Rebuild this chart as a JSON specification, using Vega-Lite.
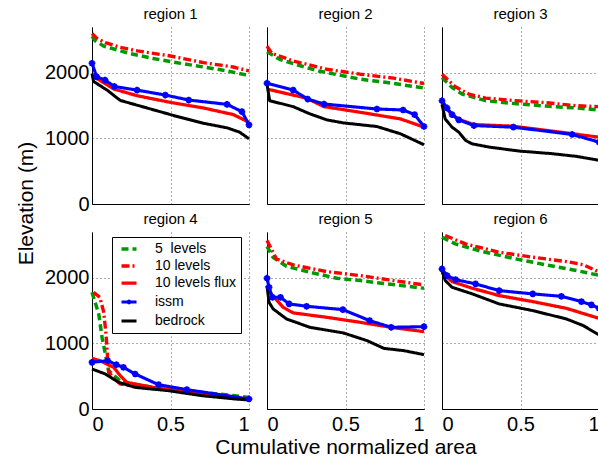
{
  "$schema": "https://vega.github.io/schema/vega-lite/v6.json",
  "padding": {"left": 15, "top": 7, "right": 0, "bottom": 0},
  "background": "white",
  "config": {
    "font": "Liberation Sans",
    "view": {"stroke": null},
    "title": {"fontSize": 15, "fontWeight": "normal", "font": "Liberation Sans", "offset": 5, "color": "black"},
    "axis": {"labelFont": "Liberation Sans", "titleFont": "Liberation Sans", "labelColor": "black", "titleColor": "black", "titleFontWeight": "normal", "labelFontSize": 20, "titleFontSize": 21, "grid": true, "gridDash": [1, 3], "gridColor": "#000", "gridOpacity": 0.65, "domainColor": "#000", "domainWidth": 1, "ticks": false},
    "legend": {"title": null, "orient": "none", "legendX": 20, "legendY": 210, "symbolType": "M-0.5,0L2.5,0", "symbolSize": 100, "labelFontSize": 14, "labelFont": "Liberation Sans", "labelColor": "black", "strokeColor": "black", "fillColor": "white", "padding": 5, "rowPadding": 3, "labelOffset": 24}
  },
  "datasets": {
    "d": [
      {"r": "region 1", "s": "5  levels", "x": 0, "y": 2560}, {"r": "region 1", "s": "5  levels", "x": 0.02, "y": 2490}, {"r": "region 1", "s": "5  levels", "x": 0.074, "y": 2410}, {"r": "region 1", "s": "5  levels", "x": 0.16, "y": 2350}, {"r": "region 1", "s": "5  levels", "x": 0.233, "y": 2300}, {"r": "region 1", "s": "5  levels", "x": 0.39, "y": 2220}, {"r": "region 1", "s": "5  levels", "x": 0.48, "y": 2180}, {"r": "region 1", "s": "5  levels", "x": 0.58, "y": 2140}, {"r": "region 1", "s": "5  levels", "x": 0.71, "y": 2090}, {"r": "region 1", "s": "5  levels", "x": 0.86, "y": 2030}, {"r": "region 1", "s": "5  levels", "x": 1, "y": 1960},
      {"r": "region 1", "s": "10 levels", "x": 0, "y": 2600}, {"r": "region 1", "s": "10 levels", "x": 0.03, "y": 2530}, {"r": "region 1", "s": "10 levels", "x": 0.085, "y": 2460}, {"r": "region 1", "s": "10 levels", "x": 0.18, "y": 2390}, {"r": "region 1", "s": "10 levels", "x": 0.29, "y": 2335}, {"r": "region 1", "s": "10 levels", "x": 0.5, "y": 2258}, {"r": "region 1", "s": "10 levels", "x": 0.71, "y": 2156}, {"r": "region 1", "s": "10 levels", "x": 0.9, "y": 2090}, {"r": "region 1", "s": "10 levels", "x": 1, "y": 2030},
      {"r": "region 1", "s": "10 levels flux", "x": 0, "y": 1960}, {"r": "region 1", "s": "10 levels flux", "x": 0.14, "y": 1753}, {"r": "region 1", "s": "10 levels flux", "x": 0.287, "y": 1652}, {"r": "region 1", "s": "10 levels flux", "x": 0.5, "y": 1550}, {"r": "region 1", "s": "10 levels flux", "x": 0.71, "y": 1465}, {"r": "region 1", "s": "10 levels flux", "x": 0.9, "y": 1364}, {"r": "region 1", "s": "10 levels flux", "x": 1, "y": 1247},
      {"r": "region 1", "s": "issm", "x": 0, "y": 2147}, {"r": "region 1", "s": "issm", "x": 0.03, "y": 1940}, {"r": "region 1", "s": "issm", "x": 0.083, "y": 1890}, {"r": "region 1", "s": "issm", "x": 0.142, "y": 1793}, {"r": "region 1", "s": "issm", "x": 0.287, "y": 1737}, {"r": "region 1", "s": "issm", "x": 0.467, "y": 1662}, {"r": "region 1", "s": "issm", "x": 0.616, "y": 1586}, {"r": "region 1", "s": "issm", "x": 0.86, "y": 1520}, {"r": "region 1", "s": "issm", "x": 0.955, "y": 1409}, {"r": "region 1", "s": "issm", "x": 1, "y": 1207},
      {"r": "region 1", "s": "bedrock", "x": 0, "y": 1990}, {"r": "region 1", "s": "bedrock", "x": 0.01, "y": 1870}, {"r": "region 1", "s": "bedrock", "x": 0.1, "y": 1730}, {"r": "region 1", "s": "bedrock", "x": 0.18, "y": 1580}, {"r": "region 1", "s": "bedrock", "x": 0.35, "y": 1465}, {"r": "region 1", "s": "bedrock", "x": 0.52, "y": 1350}, {"r": "region 1", "s": "bedrock", "x": 0.71, "y": 1232}, {"r": "region 1", "s": "bedrock", "x": 0.86, "y": 1162}, {"r": "region 1", "s": "bedrock", "x": 0.94, "y": 1096}, {"r": "region 1", "s": "bedrock", "x": 1, "y": 995},

      {"r": "region 2", "s": "5  levels", "x": 0, "y": 2323}, {"r": "region 2", "s": "5  levels", "x": 0.08, "y": 2207}, {"r": "region 2", "s": "5  levels", "x": 0.167, "y": 2141}, {"r": "region 2", "s": "5  levels", "x": 0.327, "y": 2030}, {"r": "region 2", "s": "5  levels", "x": 0.594, "y": 1904}, {"r": "region 2", "s": "5  levels", "x": 0.765, "y": 1853}, {"r": "region 2", "s": "5  levels", "x": 1, "y": 1770},
      {"r": "region 2", "s": "10 levels", "x": 0, "y": 2409}, {"r": "region 2", "s": "10 levels", "x": 0.03, "y": 2300}, {"r": "region 2", "s": "10 levels", "x": 0.167, "y": 2182}, {"r": "region 2", "s": "10 levels", "x": 0.38, "y": 2056}, {"r": "region 2", "s": "10 levels", "x": 0.594, "y": 1980}, {"r": "region 2", "s": "10 levels", "x": 0.807, "y": 1919}, {"r": "region 2", "s": "10 levels", "x": 1, "y": 1838},
      {"r": "region 2", "s": "10 levels flux", "x": 0, "y": 1753}, {"r": "region 2", "s": "10 levels flux", "x": 0.25, "y": 1616}, {"r": "region 2", "s": "10 levels flux", "x": 0.363, "y": 1485}, {"r": "region 2", "s": "10 levels flux", "x": 0.594, "y": 1399}, {"r": "region 2", "s": "10 levels flux", "x": 0.85, "y": 1298}, {"r": "region 2", "s": "10 levels flux", "x": 1, "y": 1172},
      {"r": "region 2", "s": "issm", "x": 0, "y": 1843}, {"r": "region 2", "s": "issm", "x": 0.167, "y": 1737}, {"r": "region 2", "s": "issm", "x": 0.259, "y": 1601}, {"r": "region 2", "s": "issm", "x": 0.363, "y": 1525}, {"r": "region 2", "s": "issm", "x": 0.7, "y": 1449}, {"r": "region 2", "s": "issm", "x": 0.867, "y": 1434}, {"r": "region 2", "s": "issm", "x": 0.94, "y": 1364}, {"r": "region 2", "s": "issm", "x": 1, "y": 1182},
      {"r": "region 2", "s": "bedrock", "x": 0, "y": 1830}, {"r": "region 2", "s": "bedrock", "x": 0.017, "y": 1576}, {"r": "region 2", "s": "bedrock", "x": 0.167, "y": 1485}, {"r": "region 2", "s": "bedrock", "x": 0.274, "y": 1374}, {"r": "region 2", "s": "bedrock", "x": 0.381, "y": 1283}, {"r": "region 2", "s": "bedrock", "x": 0.487, "y": 1237}, {"r": "region 2", "s": "bedrock", "x": 0.7, "y": 1182}, {"r": "region 2", "s": "bedrock", "x": 0.85, "y": 1071}, {"r": "region 2", "s": "bedrock", "x": 1, "y": 904},

      {"r": "region 3", "s": "5  levels", "x": 0, "y": 1929}, {"r": "region 3", "s": "5  levels", "x": 0.064, "y": 1778}, {"r": "region 3", "s": "5  levels", "x": 0.128, "y": 1677}, {"r": "region 3", "s": "5  levels", "x": 0.278, "y": 1576}, {"r": "region 3", "s": "5  levels", "x": 0.449, "y": 1535}, {"r": "region 3", "s": "5  levels", "x": 0.684, "y": 1490}, {"r": "region 3", "s": "5  levels", "x": 0.855, "y": 1465}, {"r": "region 3", "s": "5  levels", "x": 1, "y": 1434},
      {"r": "region 3", "s": "10 levels", "x": 0, "y": 1980}, {"r": "region 3", "s": "10 levels", "x": 0.085, "y": 1788}, {"r": "region 3", "s": "10 levels", "x": 0.171, "y": 1677}, {"r": "region 3", "s": "10 levels", "x": 0.278, "y": 1616}, {"r": "region 3", "s": "10 levels", "x": 0.47, "y": 1576}, {"r": "region 3", "s": "10 levels", "x": 0.662, "y": 1545}, {"r": "region 3", "s": "10 levels", "x": 0.854, "y": 1500}, {"r": "region 3", "s": "10 levels", "x": 1, "y": 1485},
      {"r": "region 3", "s": "10 levels flux", "x": 0, "y": 1530}, {"r": "region 3", "s": "10 levels flux", "x": 0.05, "y": 1400}, {"r": "region 3", "s": "10 levels flux", "x": 0.1, "y": 1300}, {"r": "region 3", "s": "10 levels flux", "x": 0.2, "y": 1212}, {"r": "region 3", "s": "10 levels flux", "x": 0.455, "y": 1187}, {"r": "region 3", "s": "10 levels flux", "x": 1, "y": 1020},
      {"r": "region 3", "s": "issm", "x": 0, "y": 1576}, {"r": "region 3", "s": "issm", "x": 0.032, "y": 1465}, {"r": "region 3", "s": "issm", "x": 0.064, "y": 1364}, {"r": "region 3", "s": "issm", "x": 0.107, "y": 1283}, {"r": "region 3", "s": "issm", "x": 0.203, "y": 1197}, {"r": "region 3", "s": "issm", "x": 0.455, "y": 1172}, {"r": "region 3", "s": "issm", "x": 0.829, "y": 1061}, {"r": "region 3", "s": "issm", "x": 1, "y": 944},
      {"r": "region 3", "s": "bedrock", "x": 0, "y": 1520}, {"r": "region 3", "s": "bedrock", "x": 0.02, "y": 1298}, {"r": "region 3", "s": "bedrock", "x": 0.064, "y": 1172}, {"r": "region 3", "s": "bedrock", "x": 0.107, "y": 1096}, {"r": "region 3", "s": "bedrock", "x": 0.15, "y": 970}, {"r": "region 3", "s": "bedrock", "x": 0.19, "y": 919}, {"r": "region 3", "s": "bedrock", "x": 0.3, "y": 868}, {"r": "region 3", "s": "bedrock", "x": 0.49, "y": 808}, {"r": "region 3", "s": "bedrock", "x": 0.7, "y": 768}, {"r": "region 3", "s": "bedrock", "x": 0.855, "y": 727}, {"r": "region 3", "s": "bedrock", "x": 1, "y": 667},

      {"r": "region 4", "s": "5  levels", "x": 0, "y": 1780}, {"r": "region 4", "s": "5  levels", "x": 0.043, "y": 1450}, {"r": "region 4", "s": "5  levels", "x": 0.064, "y": 1093}, {"r": "region 4", "s": "5  levels", "x": 0.085, "y": 840}, {"r": "region 4", "s": "5  levels", "x": 0.106, "y": 585}, {"r": "region 4", "s": "5  levels", "x": 0.19, "y": 406}, {"r": "region 4", "s": "5  levels", "x": 0.318, "y": 356}, {"r": "region 4", "s": "5  levels", "x": 0.488, "y": 305}, {"r": "region 4", "s": "5  levels", "x": 0.7, "y": 253}, {"r": "region 4", "s": "5  levels", "x": 0.911, "y": 203}, {"r": "region 4", "s": "5  levels", "x": 1, "y": 177},
      {"r": "region 4", "s": "10 levels", "x": 0.01, "y": 1780}, {"r": "region 4", "s": "10 levels", "x": 0.05, "y": 1704}, {"r": "region 4", "s": "10 levels", "x": 0.075, "y": 1475}, {"r": "region 4", "s": "10 levels", "x": 0.09, "y": 1119}, {"r": "region 4", "s": "10 levels", "x": 0.1, "y": 763}, {"r": "region 4", "s": "10 levels", "x": 0.106, "y": 559}, {"r": "region 4", "s": "10 levels", "x": 0.18, "y": 382}, {"r": "region 4", "s": "10 levels", "x": 0.318, "y": 340}, {"r": "region 4", "s": "10 levels", "x": 0.488, "y": 295}, {"r": "region 4", "s": "10 levels", "x": 0.7, "y": 240}, {"r": "region 4", "s": "10 levels", "x": 0.911, "y": 180}, {"r": "region 4", "s": "10 levels", "x": 1, "y": 153},
      {"r": "region 4", "s": "10 levels flux", "x": 0, "y": 773}, {"r": "region 4", "s": "10 levels flux", "x": 0.05, "y": 737}, {"r": "region 4", "s": "10 levels flux", "x": 0.138, "y": 636}, {"r": "region 4", "s": "10 levels flux", "x": 0.18, "y": 508}, {"r": "region 4", "s": "10 levels flux", "x": 0.222, "y": 406}, {"r": "region 4", "s": "10 levels flux", "x": 0.39, "y": 330}, {"r": "region 4", "s": "10 levels flux", "x": 0.6, "y": 260}, {"r": "region 4", "s": "10 levels flux", "x": 1, "y": 142},
      {"r": "region 4", "s": "issm", "x": 0, "y": 712}, {"r": "region 4", "s": "issm", "x": 0.1, "y": 737}, {"r": "region 4", "s": "issm", "x": 0.155, "y": 676}, {"r": "region 4", "s": "issm", "x": 0.2, "y": 636}, {"r": "region 4", "s": "issm", "x": 0.275, "y": 534}, {"r": "region 4", "s": "issm", "x": 0.424, "y": 371}, {"r": "region 4", "s": "issm", "x": 0.604, "y": 295}, {"r": "region 4", "s": "issm", "x": 1, "y": 153},
      {"r": "region 4", "s": "bedrock", "x": 0, "y": 610}, {"r": "region 4", "s": "bedrock", "x": 0.085, "y": 534}, {"r": "region 4", "s": "bedrock", "x": 0.17, "y": 406}, {"r": "region 4", "s": "bedrock", "x": 0.275, "y": 330}, {"r": "region 4", "s": "bedrock", "x": 0.488, "y": 279}, {"r": "region 4", "s": "bedrock", "x": 0.7, "y": 203}, {"r": "region 4", "s": "bedrock", "x": 0.911, "y": 153}, {"r": "region 4", "s": "bedrock", "x": 1, "y": 137},

      {"r": "region 5", "s": "5  levels", "x": 0, "y": 2482}, {"r": "region 5", "s": "5  levels", "x": 0.038, "y": 2315}, {"r": "region 5", "s": "5  levels", "x": 0.124, "y": 2177}, {"r": "region 5", "s": "5  levels", "x": 0.274, "y": 2086}, {"r": "region 5", "s": "5  levels", "x": 0.445, "y": 1995}, {"r": "region 5", "s": "5  levels", "x": 0.594, "y": 1959}, {"r": "region 5", "s": "5  levels", "x": 0.765, "y": 1908}, {"r": "region 5", "s": "5  levels", "x": 1, "y": 1842},
      {"r": "region 5", "s": "10 levels", "x": 0, "y": 2570}, {"r": "region 5", "s": "10 levels", "x": 0.06, "y": 2290}, {"r": "region 5", "s": "10 levels", "x": 0.167, "y": 2198}, {"r": "region 5", "s": "10 levels", "x": 0.38, "y": 2096}, {"r": "region 5", "s": "10 levels", "x": 0.594, "y": 2035}, {"r": "region 5", "s": "10 levels", "x": 0.765, "y": 1974}, {"r": "region 5", "s": "10 levels", "x": 1, "y": 1893},
      {"r": "region 5", "s": "10 levels flux", "x": 0, "y": 1880}, {"r": "region 5", "s": "10 levels flux", "x": 0.017, "y": 1780}, {"r": "region 5", "s": "10 levels flux", "x": 0.103, "y": 1551}, {"r": "region 5", "s": "10 levels flux", "x": 0.167, "y": 1466}, {"r": "region 5", "s": "10 levels flux", "x": 0.38, "y": 1399}, {"r": "region 5", "s": "10 levels flux", "x": 0.594, "y": 1322}, {"r": "region 5", "s": "10 levels flux", "x": 0.79, "y": 1246}, {"r": "region 5", "s": "10 levels flux", "x": 1, "y": 1180},
      {"r": "region 5", "s": "issm", "x": 0, "y": 1995}, {"r": "region 5", "s": "issm", "x": 0.013, "y": 1857}, {"r": "region 5", "s": "issm", "x": 0.035, "y": 1704}, {"r": "region 5", "s": "issm", "x": 0.086, "y": 1704}, {"r": "region 5", "s": "issm", "x": 0.141, "y": 1603}, {"r": "region 5", "s": "issm", "x": 0.252, "y": 1567}, {"r": "region 5", "s": "issm", "x": 0.483, "y": 1516}, {"r": "region 5", "s": "issm", "x": 0.654, "y": 1348}, {"r": "region 5", "s": "issm", "x": 0.791, "y": 1246}, {"r": "region 5", "s": "issm", "x": 1, "y": 1256},
      {"r": "region 5", "s": "bedrock", "x": 0, "y": 1880}, {"r": "region 5", "s": "bedrock", "x": 0.013, "y": 1628}, {"r": "region 5", "s": "bedrock", "x": 0.039, "y": 1527}, {"r": "region 5", "s": "bedrock", "x": 0.124, "y": 1374}, {"r": "region 5", "s": "bedrock", "x": 0.273, "y": 1246}, {"r": "region 5", "s": "bedrock", "x": 0.487, "y": 1160}, {"r": "region 5", "s": "bedrock", "x": 0.637, "y": 1043}, {"r": "region 5", "s": "bedrock", "x": 0.744, "y": 925}, {"r": "region 5", "s": "bedrock", "x": 0.872, "y": 890}, {"r": "region 5", "s": "bedrock", "x": 1, "y": 829},

      {"r": "region 6", "s": "5  levels", "x": 0, "y": 2620}, {"r": "region 6", "s": "5  levels", "x": 0.085, "y": 2519}, {"r": "region 6", "s": "5  levels", "x": 0.257, "y": 2401}, {"r": "region 6", "s": "5  levels", "x": 0.471, "y": 2290}, {"r": "region 6", "s": "5  levels", "x": 0.685, "y": 2188}, {"r": "region 6", "s": "5  levels", "x": 0.856, "y": 2112}, {"r": "region 6", "s": "5  levels", "x": 1, "y": 2040},
      {"r": "region 6", "s": "10 levels", "x": 0.02, "y": 2646}, {"r": "region 6", "s": "10 levels", "x": 0.15, "y": 2519}, {"r": "region 6", "s": "10 levels", "x": 0.364, "y": 2391}, {"r": "region 6", "s": "10 levels", "x": 0.578, "y": 2315}, {"r": "region 6", "s": "10 levels", "x": 0.792, "y": 2249}, {"r": "region 6", "s": "10 levels", "x": 0.9, "y": 2200}, {"r": "region 6", "s": "10 levels", "x": 1, "y": 2090},
      {"r": "region 6", "s": "10 levels flux", "x": 0, "y": 2085}, {"r": "region 6", "s": "10 levels flux", "x": 0.064, "y": 1943}, {"r": "region 6", "s": "10 levels flux", "x": 0.193, "y": 1842}, {"r": "region 6", "s": "10 levels flux", "x": 0.364, "y": 1730}, {"r": "region 6", "s": "10 levels flux", "x": 0.578, "y": 1638}, {"r": "region 6", "s": "10 levels flux", "x": 0.792, "y": 1536}, {"r": "region 6", "s": "10 levels flux", "x": 1, "y": 1383},
      {"r": "region 6", "s": "issm", "x": 0, "y": 2137}, {"r": "region 6", "s": "issm", "x": 0.032, "y": 2035}, {"r": "region 6", "s": "issm", "x": 0.086, "y": 1974}, {"r": "region 6", "s": "issm", "x": 0.214, "y": 1908}, {"r": "region 6", "s": "issm", "x": 0.364, "y": 1806}, {"r": "region 6", "s": "issm", "x": 0.578, "y": 1756}, {"r": "region 6", "s": "issm", "x": 0.76, "y": 1719}, {"r": "region 6", "s": "issm", "x": 0.888, "y": 1638}, {"r": "region 6", "s": "issm", "x": 0.952, "y": 1588}, {"r": "region 6", "s": "issm", "x": 1, "y": 1536},
      {"r": "region 6", "s": "bedrock", "x": 0, "y": 2110}, {"r": "region 6", "s": "bedrock", "x": 0.021, "y": 1959}, {"r": "region 6", "s": "bedrock", "x": 0.064, "y": 1857}, {"r": "region 6", "s": "bedrock", "x": 0.193, "y": 1756}, {"r": "region 6", "s": "bedrock", "x": 0.364, "y": 1603}, {"r": "region 6", "s": "bedrock", "x": 0.578, "y": 1501}, {"r": "region 6", "s": "bedrock", "x": 0.792, "y": 1374}, {"r": "region 6", "s": "bedrock", "x": 0.9, "y": 1272}, {"r": "region 6", "s": "bedrock", "x": 1, "y": 1130}
    ]
  },
  "data": {"name": "d"},
  "bounds": "flush",
  "columns": 3,
  "spacing": {"row": 28, "column": 18},
  "concat": [
      {"title": "region 1", "width": 157, "height": 177, "transform": [{"filter": "datum.r === 'region 1'"}],
       "layer": [
        {"mark": {"type": "line", "strokeJoin": "round"},
         "encoding": {
          "x": {"field": "x", "type": "quantitative", "scale": {"domain": [0, 1], "nice": false}, "axis": {"values": [0, 0.5, 1], "labels": false, "title": null}},
          "y": {"field": "y", "type": "quantitative", "scale": {"domain": [0, 2700], "nice": false}, "axis": {"values": [0, 1000, 2000], "format": "d", "title": "Elevation (m)", "labelPadding": 3, "titlePadding": 8, "titleY": 176}},
          "color": {"field": "s", "type": "nominal", "scale": {"domain": ["5  levels", "10 levels", "10 levels flux", "issm", "bedrock"], "range": ["#009900", "#ff0000", "#ff0000", "#0000ff", "#000000"]},
                    "legend": {"labelExpr": "datum.label === '5 levels' || datum.label === '5  levels' ? '5\u00a0 levels' : datum.label", "encode": {"symbols": {"update": {"strokeWidth": [{"test": "datum.value === '10 levels flux'", "value": 1}, {"value": 3.5}], "shape": [{"test": "datum.value === 'issm'", "value": "M-0.5,0L2.5,0M1,-0.4L1,0.4M0.7,-0.3L1.3,0.3M0.7,0.3L1.3,-0.3"}, {"value": "M-0.5,0L2.5,0"}]}}}}},
          "strokeDash": {"field": "s", "type": "nominal", "scale": {"domain": ["5  levels", "10 levels", "10 levels flux", "issm", "bedrock"], "range": [[7, 4], [8, 3, 2, 3], [1, 0], [1, 0], [1, 0]]}},
          "strokeWidth": {"field": "s", "type": "nominal", "legend": null, "scale": {"domain": ["5  levels", "10 levels", "10 levels flux", "issm", "bedrock"], "range": [3.5, 3, 1, 3.5, 3.5]}}
         }},
        {"transform": [{"filter": "datum.s === 'issm'"}],
         "mark": {"type": "point", "shape": "M-1,0L1,0M0,-1L0,1M-0.7,-0.7L0.7,0.7M-0.7,0.7L0.7,-0.7", "filled": false, "color": "#0000ff", "strokeWidth": 2, "size": 45, "opacity": 1},
         "encoding": {"x": {"field": "x", "type": "quantitative"}, "y": {"field": "y", "type": "quantitative"}}}
       ]},
      {"title": "region 2", "width": 157, "height": 177, "transform": [{"filter": "datum.r === 'region 2'"}],
       "layer": [
        {"mark": {"type": "line", "strokeJoin": "round"},
         "encoding": {
          "x": {"field": "x", "type": "quantitative", "scale": {"domain": [0, 1], "nice": false}, "axis": {"values": [0, 0.5, 1], "labels": false, "title": null}},
          "y": {"field": "y", "type": "quantitative", "scale": {"domain": [0, 2700], "nice": false}, "axis": {"values": [0, 1000, 2000], "labels": false, "title": null}},
          "color": {"field": "s", "type": "nominal", "scale": {"domain": ["5  levels", "10 levels", "10 levels flux", "issm", "bedrock"], "range": ["#009900", "#ff0000", "#ff0000", "#0000ff", "#000000"]},
                    "legend": {"labelExpr": "datum.label === '5 levels' || datum.label === '5  levels' ? '5\u00a0 levels' : datum.label", "encode": {"symbols": {"update": {"strokeWidth": [{"test": "datum.value === '10 levels flux'", "value": 1}, {"value": 3.5}], "shape": [{"test": "datum.value === 'issm'", "value": "M-0.5,0L2.5,0M1,-0.4L1,0.4M0.7,-0.3L1.3,0.3M0.7,0.3L1.3,-0.3"}, {"value": "M-0.5,0L2.5,0"}]}}}}},
          "strokeDash": {"field": "s", "type": "nominal", "scale": {"domain": ["5  levels", "10 levels", "10 levels flux", "issm", "bedrock"], "range": [[7, 4], [8, 3, 2, 3], [1, 0], [1, 0], [1, 0]]}},
          "strokeWidth": {"field": "s", "type": "nominal", "legend": null, "scale": {"domain": ["5  levels", "10 levels", "10 levels flux", "issm", "bedrock"], "range": [3.5, 3, 1, 3.5, 3.5]}}
         }},
        {"transform": [{"filter": "datum.s === 'issm'"}],
         "mark": {"type": "point", "shape": "M-1,0L1,0M0,-1L0,1M-0.7,-0.7L0.7,0.7M-0.7,0.7L0.7,-0.7", "filled": false, "color": "#0000ff", "strokeWidth": 2, "size": 45, "opacity": 1},
         "encoding": {"x": {"field": "x", "type": "quantitative"}, "y": {"field": "y", "type": "quantitative"}}}
       ]},
      {"title": "region 3", "width": 157, "height": 177, "transform": [{"filter": "datum.r === 'region 3'"}],
       "layer": [
        {"mark": {"type": "line", "strokeJoin": "round"},
         "encoding": {
          "x": {"field": "x", "type": "quantitative", "scale": {"domain": [0, 1], "nice": false}, "axis": {"values": [0, 0.5, 1], "labels": false, "title": null}},
          "y": {"field": "y", "type": "quantitative", "scale": {"domain": [0, 2700], "nice": false}, "axis": {"values": [0, 1000, 2000], "labels": false, "title": null}},
          "color": {"field": "s", "type": "nominal", "scale": {"domain": ["5  levels", "10 levels", "10 levels flux", "issm", "bedrock"], "range": ["#009900", "#ff0000", "#ff0000", "#0000ff", "#000000"]},
                    "legend": {"labelExpr": "datum.label === '5 levels' || datum.label === '5  levels' ? '5\u00a0 levels' : datum.label", "encode": {"symbols": {"update": {"strokeWidth": [{"test": "datum.value === '10 levels flux'", "value": 1}, {"value": 3.5}], "shape": [{"test": "datum.value === 'issm'", "value": "M-0.5,0L2.5,0M1,-0.4L1,0.4M0.7,-0.3L1.3,0.3M0.7,0.3L1.3,-0.3"}, {"value": "M-0.5,0L2.5,0"}]}}}}},
          "strokeDash": {"field": "s", "type": "nominal", "scale": {"domain": ["5  levels", "10 levels", "10 levels flux", "issm", "bedrock"], "range": [[7, 4], [8, 3, 2, 3], [1, 0], [1, 0], [1, 0]]}},
          "strokeWidth": {"field": "s", "type": "nominal", "legend": null, "scale": {"domain": ["5  levels", "10 levels", "10 levels flux", "issm", "bedrock"], "range": [3.5, 3, 1, 3.5, 3.5]}}
         }},
        {"transform": [{"filter": "datum.s === 'issm'"}],
         "mark": {"type": "point", "shape": "M-1,0L1,0M0,-1L0,1M-0.7,-0.7L0.7,0.7M-0.7,0.7L0.7,-0.7", "filled": false, "color": "#0000ff", "strokeWidth": 2, "size": 45, "opacity": 1},
         "encoding": {"x": {"field": "x", "type": "quantitative"}, "y": {"field": "y", "type": "quantitative"}}}
       ]},
      {"title": "region 4", "width": 157, "height": 177, "transform": [{"filter": "datum.r === 'region 4'"}],
       "layer": [
        {"mark": {"type": "line", "strokeJoin": "round"},
         "encoding": {
          "x": {"field": "x", "type": "quantitative", "scale": {"domain": [0, 1], "nice": false}, "axis": {"values": [0, 0.5, 1], "format": "~g", "title": null, "labelPadding": 5}},
          "y": {"field": "y", "type": "quantitative", "scale": {"domain": [0, 2700], "nice": false}, "axis": {"values": [0, 1000, 2000], "format": "d", "title": null, "labelPadding": 3}},
          "color": {"field": "s", "type": "nominal", "scale": {"domain": ["5  levels", "10 levels", "10 levels flux", "issm", "bedrock"], "range": ["#009900", "#ff0000", "#ff0000", "#0000ff", "#000000"]},
                    "legend": {"labelExpr": "datum.label === '5 levels' || datum.label === '5  levels' ? '5\u00a0 levels' : datum.label", "encode": {"symbols": {"update": {"strokeWidth": [{"test": "datum.value === '10 levels flux'", "value": 1}, {"value": 3.5}], "shape": [{"test": "datum.value === 'issm'", "value": "M-0.5,0L2.5,0M1,-0.4L1,0.4M0.7,-0.3L1.3,0.3M0.7,0.3L1.3,-0.3"}, {"value": "M-0.5,0L2.5,0"}]}}}}},
          "strokeDash": {"field": "s", "type": "nominal", "scale": {"domain": ["5  levels", "10 levels", "10 levels flux", "issm", "bedrock"], "range": [[7, 4], [8, 3, 2, 3], [1, 0], [1, 0], [1, 0]]}},
          "strokeWidth": {"field": "s", "type": "nominal", "legend": null, "scale": {"domain": ["5  levels", "10 levels", "10 levels flux", "issm", "bedrock"], "range": [3.5, 3, 1, 3.5, 3.5]}}
         }},
        {"transform": [{"filter": "datum.s === 'issm'"}],
         "mark": {"type": "point", "shape": "M-1,0L1,0M0,-1L0,1M-0.7,-0.7L0.7,0.7M-0.7,0.7L0.7,-0.7", "filled": false, "color": "#0000ff", "strokeWidth": 2, "size": 45, "opacity": 1},
         "encoding": {"x": {"field": "x", "type": "quantitative"}, "y": {"field": "y", "type": "quantitative"}}}
       ]},
      {"title": "region 5", "width": 157, "height": 177, "transform": [{"filter": "datum.r === 'region 5'"}],
       "layer": [
        {"mark": {"type": "line", "strokeJoin": "round"},
         "encoding": {
          "x": {"field": "x", "type": "quantitative", "scale": {"domain": [0, 1], "nice": false}, "axis": {"values": [0, 0.5, 1], "format": "~g", "title": "Cumulative normalized area", "labelPadding": 5, "titlePadding": 2}},
          "y": {"field": "y", "type": "quantitative", "scale": {"domain": [0, 2700], "nice": false}, "axis": {"values": [0, 1000, 2000], "labels": false, "title": null}},
          "color": {"field": "s", "type": "nominal", "scale": {"domain": ["5  levels", "10 levels", "10 levels flux", "issm", "bedrock"], "range": ["#009900", "#ff0000", "#ff0000", "#0000ff", "#000000"]},
                    "legend": {"labelExpr": "datum.label === '5 levels' || datum.label === '5  levels' ? '5\u00a0 levels' : datum.label", "encode": {"symbols": {"update": {"strokeWidth": [{"test": "datum.value === '10 levels flux'", "value": 1}, {"value": 3.5}], "shape": [{"test": "datum.value === 'issm'", "value": "M-0.5,0L2.5,0M1,-0.4L1,0.4M0.7,-0.3L1.3,0.3M0.7,0.3L1.3,-0.3"}, {"value": "M-0.5,0L2.5,0"}]}}}}},
          "strokeDash": {"field": "s", "type": "nominal", "scale": {"domain": ["5  levels", "10 levels", "10 levels flux", "issm", "bedrock"], "range": [[7, 4], [8, 3, 2, 3], [1, 0], [1, 0], [1, 0]]}},
          "strokeWidth": {"field": "s", "type": "nominal", "legend": null, "scale": {"domain": ["5  levels", "10 levels", "10 levels flux", "issm", "bedrock"], "range": [3.5, 3, 1, 3.5, 3.5]}}
         }},
        {"transform": [{"filter": "datum.s === 'issm'"}],
         "mark": {"type": "point", "shape": "M-1,0L1,0M0,-1L0,1M-0.7,-0.7L0.7,0.7M-0.7,0.7L0.7,-0.7", "filled": false, "color": "#0000ff", "strokeWidth": 2, "size": 45, "opacity": 1},
         "encoding": {"x": {"field": "x", "type": "quantitative"}, "y": {"field": "y", "type": "quantitative"}}}
       ]},
      {"title": "region 6", "width": 157, "height": 177, "transform": [{"filter": "datum.r === 'region 6'"}],
       "layer": [
        {"mark": {"type": "line", "strokeJoin": "round"},
         "encoding": {
          "x": {"field": "x", "type": "quantitative", "scale": {"domain": [0, 1], "nice": false}, "axis": {"values": [0, 0.5, 1], "format": "~g", "title": null, "labelPadding": 5}},
          "y": {"field": "y", "type": "quantitative", "scale": {"domain": [0, 2700], "nice": false}, "axis": {"values": [0, 1000, 2000], "labels": false, "title": null}},
          "color": {"field": "s", "type": "nominal", "scale": {"domain": ["5  levels", "10 levels", "10 levels flux", "issm", "bedrock"], "range": ["#009900", "#ff0000", "#ff0000", "#0000ff", "#000000"]},
                    "legend": {"labelExpr": "datum.label === '5 levels' || datum.label === '5  levels' ? '5\u00a0 levels' : datum.label", "encode": {"symbols": {"update": {"strokeWidth": [{"test": "datum.value === '10 levels flux'", "value": 1}, {"value": 3.5}], "shape": [{"test": "datum.value === 'issm'", "value": "M-0.5,0L2.5,0M1,-0.4L1,0.4M0.7,-0.3L1.3,0.3M0.7,0.3L1.3,-0.3"}, {"value": "M-0.5,0L2.5,0"}]}}}}},
          "strokeDash": {"field": "s", "type": "nominal", "scale": {"domain": ["5  levels", "10 levels", "10 levels flux", "issm", "bedrock"], "range": [[7, 4], [8, 3, 2, 3], [1, 0], [1, 0], [1, 0]]}},
          "strokeWidth": {"field": "s", "type": "nominal", "legend": null, "scale": {"domain": ["5  levels", "10 levels", "10 levels flux", "issm", "bedrock"], "range": [3.5, 3, 1, 3.5, 3.5]}}
         }},
        {"transform": [{"filter": "datum.s === 'issm'"}],
         "mark": {"type": "point", "shape": "M-1,0L1,0M0,-1L0,1M-0.7,-0.7L0.7,0.7M-0.7,0.7L0.7,-0.7", "filled": false, "color": "#0000ff", "strokeWidth": 2, "size": 45, "opacity": 1},
         "encoding": {"x": {"field": "x", "type": "quantitative"}, "y": {"field": "y", "type": "quantitative"}}}
       ]}
  ]
}
